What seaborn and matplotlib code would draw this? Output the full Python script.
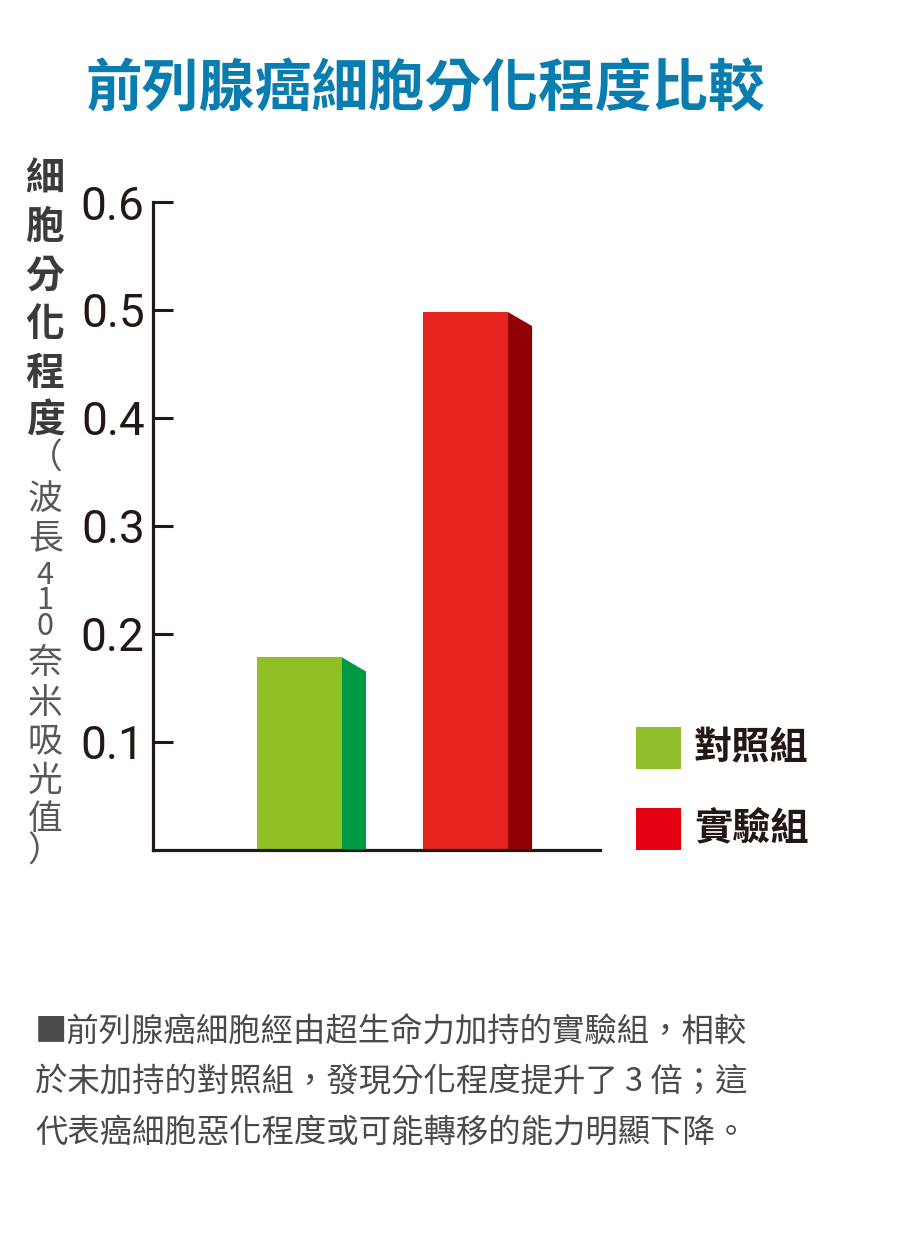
import matplotlib
matplotlib.use("Agg")
import matplotlib.pyplot as plt
import seaborn as sns
from matplotlib.patches import Rectangle

# ---- data ----
groups = ["對照組", "實驗組"]
values = [0.178, 0.498]
yticks = [0.1, 0.2, 0.3, 0.4, 0.5, 0.6]
ytick_labels = ["0.1", "0.2", "0.3", "0.4", "0.5", "0.6"]
front_colors = ["#8fc124", "#e5231f"]
side_colors = ["#009a44", "#900005"]
legend_colors = ["#8fbf2d", "#e50012"]
title = "前列腺癌細胞分化程度比較"
ylabel_bold = "細胞分化程度"
ylabel_light = ["（", "波", "長", "4\n1\n0", "奈", "米", "吸", "光", "值", "）"]
caption_lines = [
    "■前列腺癌細胞經由超生命力加持的實驗組，相較",
    "於未加持的對照組，發現分化程度提升了 3 倍；這",
    "代表癌細胞惡化程度或可能轉移的能力明顯下降。",
]

sns.set_style("white")
CJK = ["Noto Sans CJK TC", "DejaVu Sans"]
plt.rcParams["font.family"] = CJK

W, H = 905, 1240
fig = plt.figure(figsize=(W / 100, H / 100), dpi=100)

def fx(px):
    return px / W

def fy(py):
    return 1 - py / H

ax = fig.add_axes([fx(153), fy(849.5), fx(600) - fx(153), fy(202) - fy(849.5)])

bar_w = 0.512
sns.barplot(x=groups, y=values, hue=groups, palette=front_colors, legend=False,
            width=bar_w, linewidth=0, saturation=1, ax=ax)

# side faces of the pseudo-3D bars
dx = 0.145
dy = 0.013
for i, v in enumerate(values):
    x0 = i + bar_w / 2
    ax.fill([x0, x0 + dx, x0 + dx, x0], [v, v - dy, 0, 0],
            color=side_colors[i], linewidth=0, zorder=3)

ax.set_xlim(-0.882, 1.810)
ax.set_ylim(0, 0.6)
ax.set_xticks([])
ax.set_yticks(yticks)
ax.set_yticklabels(ytick_labels)
ax.set_xlabel("")
ax.set_ylabel("")
for lab in ax.get_yticklabels():
    lab.set_fontfamily("Roboto")
    lab.set_fontsize(33)
    lab.set_color("#231815")
ax.tick_params(axis="y", direction="in", length=14.4, width=2.2,
               color="#231815", pad=6, left=True)
for s in ["top", "right"]:
    ax.spines[s].set_visible(False)
for s in ["left", "bottom"]:
    ax.spines[s].set_color("#231815")
    ax.spines[s].set_linewidth(2.3)
ax.set_facecolor("none")

# title
fig.text(fx(425), fy(89), title, ha="center", va="center",
         fontsize=40.8, fontweight="bold", color="#0a7db0", family=CJK)

# vertical y label
for k, ch in enumerate(ylabel_bold):
    fig.text(fx(45), fy(179 + k * 48.5), ch, ha="center", va="center",
             fontsize=28, fontweight="bold", color="#3e3a39", family=CJK)
light_y = [459, 499, 539, 601, 664, 703, 743, 781, 819, 852]
for ch, yy in zip(ylabel_light, light_y):
    is_digits = "\n" in ch
    fig.text(fx(45), fy(yy), ch, ha="center", va="center",
             linespacing=0.78 if is_digits else 1.0,
             fontsize=22 if is_digits else 25, fontweight="light",
             color="#595757", family=CJK)

# legend
leg_y = [748, 829]
for lab, col, yy in zip(groups, legend_colors, leg_y):
    fig.add_artist(Rectangle((fx(636), fy(yy + 21)), fx(681) - fx(636), (42) / H,
                             transform=fig.transFigure, facecolor=col, edgecolor="none"))
    fig.text(fx(694), fy(yy), lab, ha="left", va="center",
             fontsize=27.5, fontweight="bold", color="#231815", family=CJK)

# caption
for k, line in enumerate(caption_lines):
    fig.text(fx(35), fy(1032 + k * 50.5), line, ha="left", va="center",
             fontsize=23.3, fontweight="light", color="#4a4a4a", family=CJK)

fig.savefig("out.png", dpi=100)
